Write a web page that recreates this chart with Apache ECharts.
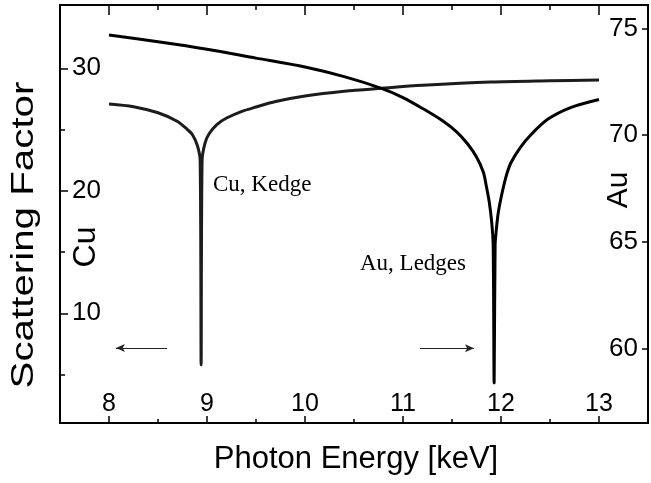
<!DOCTYPE html>
<html><head><meta charset="utf-8">
<script src="https://cdn.jsdelivr.net/npm/echarts@6/dist/echarts.min.js"></script>
<style>html,body{margin:0;padding:0;background:#fff}#c{width:651px;height:483px}</style>
</head><body><div id="c"></div>
<script>
// ---- data ----
const cuEnergy = [8.00, 8.25, 8.50, 8.70, 8.80, 8.85, 8.90, 8.93, 8.94, 8.95, 8.98, 9.02, 9.10, 9.20, 9.35, 9.50, 9.70, 10.00, 10.40, 10.78, 11.20, 11.90, 12.50, 13.00];
const cuFactor = [27.09, 26.87, 26.37, 25.66, 25.00, 24.60, 23.74, 22.51, 5.78, 22.51, 23.90, 24.64, 25.41, 25.94, 26.47, 26.84, 27.29, 27.74, 28.13, 28.37, 28.61, 28.88, 28.98, 29.04];
const auEnergy = [8.00, 8.50, 9.00, 9.50, 10.00, 10.40, 10.78, 11.00, 11.21, 11.40, 11.55, 11.66, 11.75, 11.82, 11.85, 11.88, 11.905, 11.92, 11.93, 11.94, 11.95, 11.97, 12.00, 12.05, 12.10, 12.20, 12.31, 12.48, 12.71, 13.00];
const auFactor = [74.69, 74.38, 74.03, 73.61, 73.19, 72.74, 72.19, 71.76, 71.22, 70.68, 70.14, 69.58, 68.97, 68.26, 67.61, 66.86, 65.92, 64.84, 58.37, 64.84, 65.45, 66.30, 67.05, 68.03, 68.69, 69.44, 70.04, 70.75, 71.29, 71.67];
const energyTicks = [8, 9, 10, 11, 12, 13];
const cuTicks = [10, 20, 30];
const cuMinorTicks = [5, 15, 25];
const auTicks = [60, 65, 70, 75];
const xTitle = 'Photon Energy [keV]';
const yTitle = 'Scattering Factor';
const cuName = 'Cu';
const auName = 'Au';
const cuNote = 'Cu, Kedge';
const auNote = 'Au, Ledges';

// ---- axis ranges / annotation positions ----
const X_MIN = 7.5, X_MAX = 13.5;
const CU_MIN = 1.04, CU_MAX = 35.17;
const AU_MIN = 56.5, AU_MAX = 76.1;
const cuArrow = [[8.592, 7.17], [8.071, 7.17]];
const auArrow = [[11.173, 60.0], [11.724, 60.0]];

const SANS = "'Liberation Sans', Arial, Helvetica, sans-serif";
const SERIF = "'Liberation Serif', 'Times New Roman', serif";
const BLACK = '#000';

const chart = echarts.init(document.getElementById('c'), null, {renderer: 'canvas'});

function hiddenLabel() { return {show: false}; }

const option = {
  animation: false,
  backgroundColor: '#fff',
  grid: {left: 60, right: 3, top: 5, bottom: 60, containLabel: false},
  xAxis: [
    { // bottom frame with half-step minor ticks and labels
      type: 'value', position: 'bottom', min: X_MIN, max: X_MAX, interval: 0.5,
      axisLine: {show: true, onZero: false, lineStyle: {color: BLACK, width: 2}},
      axisTick: {show: true, inside: true, length: 4, lineStyle: {color: BLACK, width: 1.5}},
      axisLabel: {show: true, inside: true, margin: 6, customValues: energyTicks,
        fontFamily: SANS, fontSize: 25, color: BLACK},
      splitLine: {show: false}
    },
    { // bottom major ticks
      type: 'value', position: 'bottom', min: X_MIN, max: X_MAX,
      axisLine: {show: false, onZero: false},
      axisTick: {show: true, inside: true, length: 7, customValues: energyTicks, lineStyle: {color: BLACK, width: 1.5}},
      axisLabel: hiddenLabel(), splitLine: {show: false}
    },
    { // top frame, minor ticks
      type: 'value', position: 'top', min: X_MIN, max: X_MAX, interval: 0.5,
      axisLine: {show: true, onZero: false, lineStyle: {color: BLACK, width: 2}},
      axisTick: {show: true, inside: true, length: 5, lineStyle: {color: BLACK, width: 1.5}},
      axisLabel: hiddenLabel(), splitLine: {show: false}
    },
    { // top major ticks
      type: 'value', position: 'top', min: X_MIN, max: X_MAX,
      axisLine: {show: false, onZero: false},
      axisTick: {show: true, inside: true, length: 10, customValues: energyTicks, lineStyle: {color: BLACK, width: 1.5}},
      axisLabel: hiddenLabel(), splitLine: {show: false}
    }
  ],
  yAxis: [
    { // Cu axis (left)
      type: 'value', position: 'left', min: CU_MIN, max: CU_MAX,
      axisLine: {show: true, onZero: false, lineStyle: {color: BLACK, width: 2}},
      axisTick: {show: true, inside: true, length: 8, customValues: cuTicks, lineStyle: {color: BLACK, width: 1.5}},
      axisLabel: {show: true, inside: true, margin: 12, customValues: cuTicks,
        fontFamily: SANS, fontSize: 26, color: BLACK},
      splitLine: {show: false}
    },
    { // Au axis (right)
      type: 'value', position: 'right', min: AU_MIN, max: AU_MAX,
      axisLine: {show: true, onZero: false, lineStyle: {color: BLACK, width: 2}},
      axisTick: {show: true, inside: true, length: 6, customValues: auTicks, lineStyle: {color: BLACK, width: 1.5}},
      axisLabel: {show: true, inside: true, margin: 10, customValues: auTicks,
        fontFamily: SANS, fontSize: 26, color: BLACK},
      splitLine: {show: false}
    },
    { // Cu minor ticks
      type: 'value', position: 'left', min: CU_MIN, max: CU_MAX,
      axisLine: {show: false, onZero: false},
      axisTick: {show: true, inside: true, length: 5, customValues: cuMinorTicks, lineStyle: {color: BLACK, width: 1.5}},
      axisLabel: hiddenLabel(), splitLine: {show: false}
    }
  ],
  series: [
    {
      name: cuName, type: 'line', xAxisIndex: 0, yAxisIndex: 0,
      data: cuEnergy.map((e, i) => [e, cuFactor[i]]),
      showSymbol: false, smooth: 0.3,
      lineStyle: {color: '#1c1c1c', width: 3},
      markLine: {
        silent: true, symbol: ['none', 'arrow'], symbolSize: [6, 9], precision: 3,
        label: {show: false},
        lineStyle: {color: '#222', width: 1, type: 'solid'},
        data: [[{coord: cuArrow[0]}, {coord: cuArrow[1]}]]
      }
    },
    {
      name: auName, type: 'line', xAxisIndex: 0, yAxisIndex: 1,
      data: auEnergy.map((e, i) => [e, auFactor[i]]),
      showSymbol: false, smooth: 0.3,
      lineStyle: {color: '#000', width: 3},
      markLine: {
        silent: true, symbol: ['none', 'arrow'], symbolSize: [6, 9], precision: 3,
        label: {show: false},
        lineStyle: {color: '#222', width: 1, type: 'solid'},
        data: [[{coord: auArrow[0]}, {coord: auArrow[1]}]]
      }
    }
  ],
  graphic: [
    {type: 'text', x: 356, y: 459, silent: true,
      style: {text: xTitle, fontFamily: SANS, fontSize: 31, fill: BLACK,
        align: 'center', verticalAlign: 'middle', textAlign: 'center', textVerticalAlign: 'middle'}},
    {type: 'text', x: 24, y: 235, rotation: Math.PI / 2, scaleX: 1.3, silent: true,
      style: {text: yTitle, fontFamily: SANS, fontSize: 31, fill: BLACK,
        align: 'center', verticalAlign: 'middle', textAlign: 'center', textVerticalAlign: 'middle'}},
    {type: 'text', x: 86, y: 247, rotation: Math.PI / 2, silent: true,
      style: {text: cuName, fontFamily: SANS, fontSize: 32, fill: BLACK,
        align: 'center', verticalAlign: 'middle', textAlign: 'center', textVerticalAlign: 'middle'}},
    {type: 'text', x: 619, y: 190, rotation: Math.PI / 2, silent: true,
      style: {text: auName, fontFamily: SANS, fontSize: 30, fill: BLACK,
        align: 'center', verticalAlign: 'middle', textAlign: 'center', textVerticalAlign: 'middle'}},
    {type: 'text', x: 213, y: 185, silent: true,
      style: {text: cuNote, fontFamily: SERIF, fontSize: 23, fill: BLACK,
        align: 'left', verticalAlign: 'middle', textAlign: 'left', textVerticalAlign: 'middle'}},
    {type: 'text', x: 360, y: 264, silent: true,
      style: {text: auNote, fontFamily: SERIF, fontSize: 23, fill: BLACK,
        align: 'left', verticalAlign: 'middle', textAlign: 'left', textVerticalAlign: 'middle'}}
  ]
};
chart.setOption(option);
</script>
</body></html>
